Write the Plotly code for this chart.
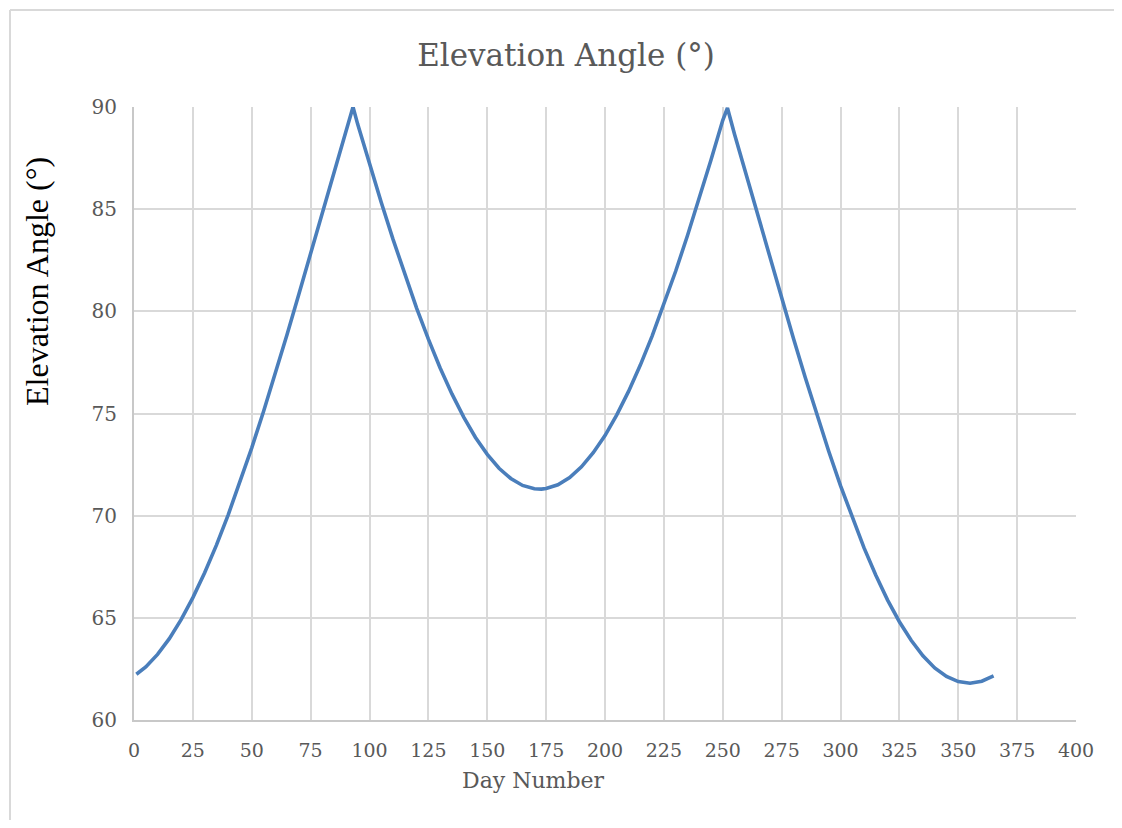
import plotly.graph_objects as go

# Day number and elevation angle (degrees)
days = [1, 5, 10, 15, 20, 25, 30, 35, 40, 45, 50, 55, 60, 65, 70, 75, 80, 85, 90, 93,
        95, 100, 105, 110, 115, 120, 125, 130, 135, 140, 145, 150, 155, 160, 165, 170,
        173, 175, 180, 185, 190, 195, 200, 205, 210, 215, 220, 225, 230, 235, 240, 245,
        250, 252, 255, 260, 265, 270, 275, 280, 285, 290, 295, 300, 305, 310, 315, 320,
        325, 330, 335, 340, 345, 350, 355, 360, 365]
elevation = [62.24, 62.60, 63.21, 63.98, 64.91, 65.99, 67.21, 68.56, 70.04, 71.63,
             73.32, 75.10, 76.96, 78.87, 80.84, 82.83, 84.84, 86.87, 88.87, 90.00,
             89.15, 87.22, 85.33, 83.52, 81.80, 80.16, 78.64, 77.23, 75.96, 74.82,
             73.83, 73.00, 72.32, 71.82, 71.48, 71.32, 71.30, 71.33, 71.51, 71.86,
             72.39, 73.08, 73.92, 74.93, 76.08, 77.37, 78.79, 80.32, 81.96, 83.70,
             85.52, 87.41, 89.35, 89.95, 88.67, 86.66, 84.64, 82.63, 80.64, 78.68,
             76.77, 74.92, 73.15, 71.47, 69.88, 68.42, 67.08, 65.87, 64.81, 63.90,
             63.14, 62.55, 62.13, 61.88, 61.80, 61.90, 62.16]

x_ticks = [0, 25, 50, 75, 100, 125, 150, 175, 200, 225, 250, 275, 300, 325, 350, 375, 400]
y_ticks = [60, 65, 70, 75, 80, 85, 90]

title_text = "Elevation Angle (°)"
x_title = "Day Number"
y_title = "Elevation Angle (°)"

grey_text = "#595959"
grid = "#D9D9D9"
serif = "DejaVu Serif"

fig = go.Figure()
fig.add_trace(go.Scatter(
    x=days, y=elevation, mode="lines",
    line=dict(color="#4A7EBB", width=3.6),
    showlegend=False, hoverinfo="x+y",
))

W, H = 1114, 812
fig.update_layout(
    width=W, height=H,
    margin=dict(l=126, r=46, t=99, b=100),
    paper_bgcolor="white", plot_bgcolor="white",
    title=dict(text=title_text, x=558 / W, xanchor="center", y=1 - 47 / H, yanchor="middle",
               font=dict(family=serif, size=31, color=grey_text)),
    font=dict(family=serif, color=grey_text),
)

fig.update_xaxes(
    range=[0, 400], tickvals=x_ticks, ticktext=[str(v) for v in x_ticks],
    showgrid=True, gridcolor=grid, gridwidth=2,
    showline=True, linecolor="#C8C8C8", linewidth=2,
    ticks="", zeroline=False,
    tickfont=dict(family=serif, size=19, color=grey_text), ticklabelstandoff=12,
)
fig.update_yaxes(
    range=[60, 90], tickvals=y_ticks, ticktext=[str(v) for v in y_ticks],
    showgrid=True, gridcolor=grid, gridwidth=2,
    showline=True, linecolor="#C8C8C8", linewidth=2,
    ticks="", zeroline=False,
    tickfont=dict(family=serif, size=20, color=grey_text), ticklabelstandoff=11,
)

# axis titles as annotations
fig.add_annotation(text=x_title, xref="paper", yref="paper",
                   x=(533 - 134) / 942, y=-(780 - 720) / 613,
                   xanchor="center", yanchor="middle", showarrow=False,
                   font=dict(family=serif, size=22, color=grey_text))
fig.add_annotation(text=y_title, xref="paper", yref="paper",
                   x=(37 - 134) / 942, y=(720 - 282) / 613, textangle=-90,
                   xanchor="center", yanchor="middle", showarrow=False,
                   font=dict(family="Liberation Serif", size=32, color="black"))

# outer chart border (top and left edges visible)
border = dict(color="#D9D9D9", width=2)
fig.add_shape(type="line", xref="paper", yref="paper",
              x0=(10 - 134) / 942, x1=(1140 - 134) / 942,
              y0=(720 - 10) / 613, y1=(720 - 10) / 613, line=border, layer="below")
fig.add_shape(type="line", xref="paper", yref="paper",
              x0=(10 - 134) / 942, x1=(10 - 134) / 942,
              y0=(720 - 10) / 613, y1=(720 - 850) / 613, line=border, layer="below")

fig.write_html("out.html")
